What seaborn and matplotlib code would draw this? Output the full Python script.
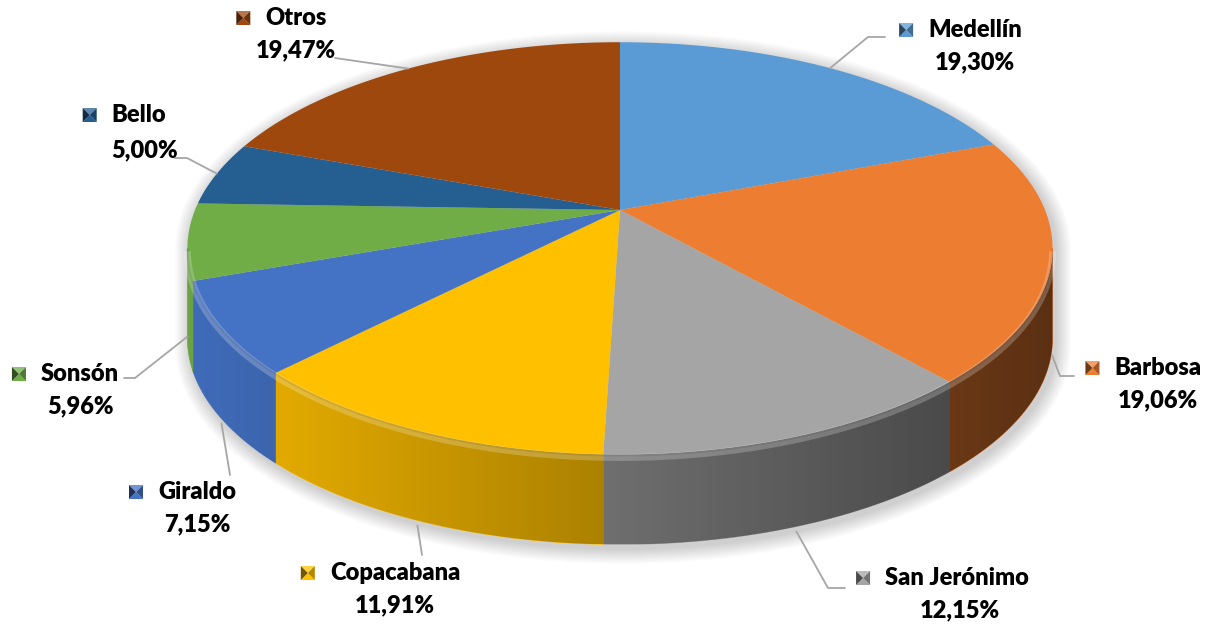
import numpy as np
import matplotlib
matplotlib.use('Agg')
import matplotlib.pyplot as plt
import seaborn as sns
from matplotlib.patches import Polygon
from matplotlib.path import Path
from matplotlib.transforms import Transform, Affine2D

# datos
municipios = ['Medellín', 'Barbosa', 'San Jerónimo', 'Copacabana',
              'Giraldo', 'Sonsón', 'Bello', 'Otros']
porcentajes = [19.30, 19.06, 12.15, 11.91, 7.15, 5.96, 5.00, 19.47]
colores = ['#5B9BD5', '#ED7D31', '#A5A5A5', '#FFC000',
           '#4472C4', '#70AD47', '#255E91', '#9E480E']

sns.set_style('white')
plt.rcParams['font.family'] = ['Lato', 'DejaVu Sans']

# geometria en pixeles (perspectiva del disco)
W, H = 1221, 628
CX, CY = 620, 210          # vertice del pastel
A, B, K = 425, 199, 0.186  # semiejes y factor de perspectiva
DEPTH = 90                 # grosor lateral


def proj(u, v):
    d = 1 + K * np.asarray(v)
    return CX + A * np.asarray(u) / d, CY - B * np.asarray(v) / d


class Perspectiva(Transform):
    input_dims = output_dims = 2
    is_separable = False
    has_inverse = False

    def transform_non_affine(self, xy):
        xy = np.asarray(xy, float)
        x, y = proj(xy[:, 0], xy[:, 1])
        return np.column_stack([x, y])

    def transform_path_non_affine(self, path):
        # curvas a poligonos finos antes de proyectar
        esc = 2000.0
        polys = path.to_polygons(transform=Affine2D().scale(esc), closed_only=False)
        verts = np.concatenate(polys) / esc
        return Path(self.transform_non_affine(verts), closed=True)


# posiciones de etiquetas: nombre, porcentaje, puntos de la guia (lado etiqueta)
etiquetas = {
    'Medellín': ((975, 30), (975, 62), [(868, 37), (885, 37)]),
    'Barbosa': ((1158, 368), (1158, 400), [(1060, 376), (1074, 376)]),
    'San Jerónimo': ((957, 578), (960, 610), [(828, 588), (845, 588)]),
    'Copacabana': ((395, 573), (395, 605), [(422, 555)]),
    'Giraldo': ((197, 492), (197, 524), [(230, 475)]),
    'Sonsón': ((80, 374), (80, 406), [(135, 378), (124, 378)]),
    'Bello': ((139, 115), (145, 150), [(187, 158), (175, 158)]),
    'Otros': ((296, 18), (296, 50), [(335, 58)]),
}

fig = plt.figure(figsize=(W / 100, H / 100), dpi=100)
ax = fig.add_axes([0, 0, 1, 1])
palette = sns.color_palette(colores)

# limites de la silueta
t_izq = -180 + np.degrees(np.arcsin(K))
t_der = -np.degrees(np.arcsin(K))

# sombra suave alrededor del pastel
t_up = np.radians(np.linspace(t_der, 360 + t_izq, 300))
t_dn = np.radians(np.linspace(t_izq, t_der, 300))
xu, yu = proj(np.cos(t_up), np.sin(t_up))
xd, yd = proj(np.cos(t_dn), np.sin(t_dn))
sil_x = np.concatenate([xu, xd])
sil_y = np.concatenate([yu, yd + DEPTH])
mx, my = sil_x.mean(), sil_y.mean()
for k in range(12, 0, -1):
    s = k * 1.3
    sx = mx + (sil_x - mx) * (1 + s / 440) + 3
    sy = my + (sil_y - my) * (1 + s / 260) + 4
    ax.add_patch(Polygon(np.column_stack([sx, sy]), closed=True,
                         facecolor='black', alpha=0.016, lw=0, zorder=0))

# pared lateral
cum = np.concatenate([[0], np.cumsum(porcentajes)])
for i, col in enumerate(palette):
    th_start = 90 - 360 * cum[i] / 100
    th_end = 90 - 360 * cum[i + 1] / 100
    lo, hi = max(th_end, t_izq), min(th_start, t_der)
    if lo >= hi:
        continue
    t = np.radians(np.linspace(lo, hi, 120))
    x, y = proj(np.cos(t), np.sin(t))
    xs = np.concatenate([x, x[::-1]])
    ys = np.concatenate([y, y[::-1] + DEPTH])
    ax.add_patch(Polygon(np.column_stack([xs, ys]), closed=True,
                         facecolor=col, edgecolor=col, lw=0.5, zorder=1))

# degradado oscuro sobre la pared
wall = Polygon(np.column_stack([np.concatenate([xd, xd[::-1]]),
                                np.concatenate([yd, yd[::-1] + DEPTH])]),
               closed=True, facecolor='none', lw=0)
ax.add_patch(wall)
grad = np.zeros((1, 256, 4))
grad[..., 3] = np.linspace(0.06, 0.62, 256)
im = ax.imshow(grad, extent=(xd.min(), xd.max(), yd.max() + DEPTH, yd.min()),
               aspect='auto', interpolation='bilinear', zorder=2)
im.set_clip_path(wall)

# cara superior
wedges, _ = ax.pie(porcentajes, colors=palette, startangle=90, counterclock=False,
                   center=(0, 0), radius=1, wedgeprops=dict(linewidth=0))
persp = Perspectiva() + ax.transData
for w in wedges:
    w.set_transform(persp)
    w.set_zorder(3)

# brillo del borde
ax.plot(xd, yd + 3, color='white', alpha=0.22, lw=5, zorder=4, solid_capstyle='butt')
ax.plot(xd, yd + 1, color='black', alpha=0.08, lw=1.5, zorder=4)

ax.set_aspect('auto')
ax.set_xlim(0, W)
ax.set_ylim(H, 0)
ax.axis('off')


def cuadro(cx, cy, col):
    s = 7
    c = np.array(col)
    claro = tuple(c + (1 - c) * 0.25)
    oscuro = tuple(c * 0.45)
    medio = tuple(c * 0.7)
    tri = [
        ([(cx - s, cy - s), (cx + s, cy - s), (cx, cy)], claro),
        ([(cx - s, cy + s), (cx + s, cy + s), (cx, cy)], tuple(c)),
        ([(cx - s, cy - s), (cx - s, cy + s), (cx, cy)], oscuro),
        ([(cx + s, cy - s), (cx + s, cy + s), (cx, cy)], medio),
    ]
    for pts, fc in tri:
        ax.add_patch(Polygon(pts, closed=True, facecolor=fc, lw=0, zorder=6))


nombres = []
for i, nombre in enumerate(municipios):
    (nx, ny), (pxx, pyy), guia = etiquetas[nombre]
    tn = ax.text(nx, ny, nombre, ha='center', va='center', fontsize=17,
                 fontweight='heavy', color='black', zorder=7)
    ax.text(pxx, pyy, f'{porcentajes[i]:.2f}%'.replace('.', ','),
            ha='center', va='center', fontsize=17, fontweight='heavy',
            color='black', zorder=7)
    nombres.append(tn)

    # guia desde el borde del pastel
    mid = np.radians(90 - 360 * (cum[i] + porcentajes[i] / 2) / 100)
    x0, y0 = proj(np.cos(mid), np.sin(mid))
    if np.sin(mid) < 0:
        y0 = y0 + DEPTH + 5
    pts = [(x0, y0)] + guia
    xs, ys = zip(*pts)
    ax.plot(xs, ys, color='#A6A6A6', lw=1.3, zorder=5)

fig.canvas.draw()
for i, tn in enumerate(nombres):
    bb = tn.get_window_extent()
    ny = etiquetas[municipios[i]][0][1]
    cuadro(bb.x0 - 22, ny, palette[i])

fig.savefig('out.png', dpi=100)
